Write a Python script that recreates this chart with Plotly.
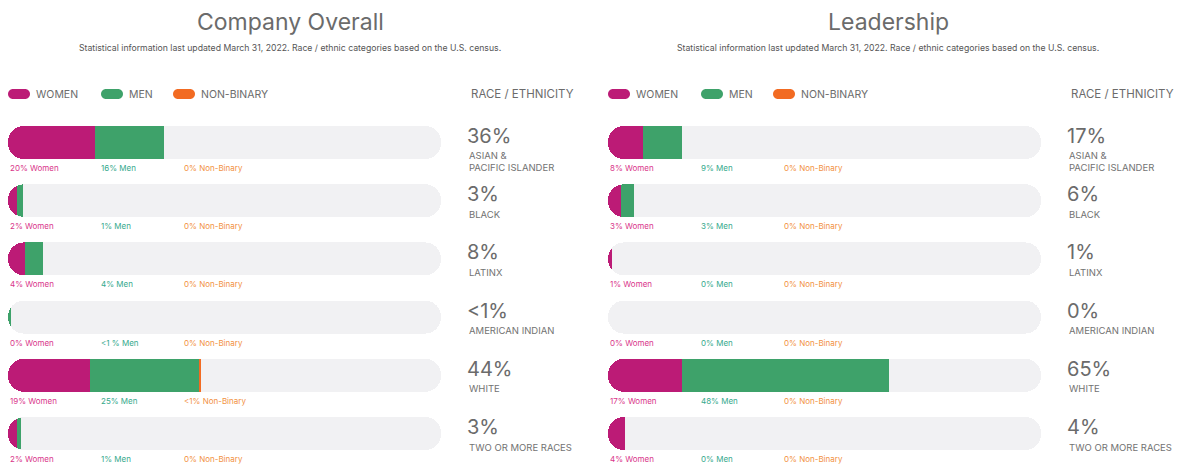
import plotly.graph_objects as go

# rows, top to bottom
races = ["api", "black", "latinx", "amind", "white", "multi"]
race_names = ["ASIAN &<br>PACIFIC ISLANDER", "BLACK", "LATINX", "AMERICAN INDIAN", "WHITE", "TWO OR MORE RACES"]

# Company Overall
co_women = [20, 2, 4, 0, 19, 2]
co_men = [16, 1.4, 4, 0.8, 25, 1]
co_nb = [0, 0, 0, 0, 0.4, 0]
co_total = ["36%", "3%", "8%", "<1%", "44%", "3%"]
co_women_lbl = ["20% Women", "2% Women", "4% Women", "0% Women", "19% Women", "2% Women"]
co_men_lbl = ["16% Men", "1% Men", "4% Men", "<1 % Men", "25% Men", "1% Men"]
co_nb_lbl = ["0% Non-Binary", "0% Non-Binary", "0% Non-Binary", "0% Non-Binary", "<1% Non-Binary", "0% Non-Binary"]

# Leadership
ld_women = [8, 3, 1, 0, 17, 4]
ld_men = [9, 3, 0, 0, 48, 0]
ld_nb = [0, 0, 0, 0, 0, 0]
ld_total = ["17%", "6%", "1%", "0%", "65%", "4%"]
ld_women_lbl = ["8% Women", "3% Women", "1% Women", "0% Women", "17% Women", "4% Women"]
ld_men_lbl = ["9% Men", "3% Men", "0% Men", "0% Men", "48% Men", "0% Men"]
ld_nb_lbl = ["0% Non-Binary"] * 6

W, H = 1180, 464
FONT = "Inter"
TRACK = "#f1f1f3"
C_WOMEN = "#bc1b76"
C_MEN = "#3ea26a"
C_NB = "#f26b22"
T_WOMEN = "#d9358a"
T_MEN = "#35a98c"
T_NB = "#f2913f"
GREY = "#6b6b6b"

fig = go.Figure()


def add_panel(xa, ya, women, men, nb):
    # grey pill track (has a base, so it sits outside the stack, rounded both ends)
    fig.add_trace(go.Bar(y=races, x=[100] * len(races), base=[0] * len(races), orientation="h",
                         xaxis=xa, yaxis=ya, hoverinfo="skip",
                         marker=dict(color=TRACK, line_width=0, cornerradius="50%")))
    # axis is reversed: the stack starts at the right end of the track and its
    # rounded tip lands on the left edge, as in the reference
    rest = [100 - w - m - n for w, m, n in zip(women, men, nb)]
    for vals, col in [(rest, "rgba(0,0,0,0)"), (nb, C_NB), (men, C_MEN), (women, C_WOMEN)]:
        fig.add_trace(go.Bar(y=races, x=[v if v > 0 else None for v in vals], orientation="h",
                             xaxis=xa, yaxis=ya,
                             marker=dict(color=col, line_width=0, cornerradius="50%")))


add_panel("x", "y", co_women, co_men, co_nb)
add_panel("x2", "y2", ld_women, ld_men, ld_nb)

ann = []


def panel_text(xa, ya, totals, wl, ml, nl):
    for i, r in enumerate(races):
        for xv, txt, col in [(100, wl[i], T_WOMEN), (79.0, ml[i], T_MEN), (59.9, nl[i], T_NB)]:
            ann.append(dict(xref=xa, yref=ya, x=xv, y=r, yshift=-25.5, text=txt, showarrow=False,
                            xanchor="left", yanchor="middle", font=dict(family=FONT, size=8, color=col)))
        ann.append(dict(xref=xa, yref=ya, x=0, y=r, xshift=24, yshift=6.5, text=totals[i], showarrow=False,
                        xanchor="left", yanchor="middle", font=dict(family=FONT, size=20, color=GREY)))
        ann.append(dict(xref=xa, yref=ya, x=0, y=r, xshift=26, yshift=-6, text=race_names[i], showarrow=False,
                        xanchor="left", yanchor="top", align="left",
                        font=dict(family=FONT, size=9.5, color="#727272")))


panel_text("x", "y", co_total, co_women_lbl, co_men_lbl, co_nb_lbl)
panel_text("x2", "y2", ld_total, ld_women_lbl, ld_men_lbl, ld_nb_lbl)

shapes = []
pill = "M5,-5 L17,-5 C19.76,-5 22,-2.76 22,0 C22,2.76 19.76,5 17,5 L5,5 C2.24,5 0,2.76 0,0 C0,-2.76 2.24,-5 5,-5 Z"
for off, title in [(0, "Company Overall"), (600, "Leadership")]:
    cx = (290 + off * 0.997) / W
    ann.append(dict(xref="paper", yref="paper", x=cx, y=1 - 22 / H, text=title, showarrow=False,
                    xanchor="center", yanchor="middle", font=dict(family=FONT, size=23, color=GREY)))
    ann.append(dict(xref="paper", yref="paper", x=cx, y=1 - 48 / H,
                    text="Statistical information last updated March 31, 2022. Race / ethnic categories based on the U.S. census.",
                    showarrow=False, xanchor="center", yanchor="middle",
                    font=dict(family=FONT, size=8.7, color="#555555")))
    for px, col, txt in [(8, C_WOMEN, "WOMEN"), (101, C_MEN, "MEN"), (173, C_NB, "NON-BINARY")]:
        shapes.append(dict(type="path", xref="paper", yref="paper", xsizemode="pixel", ysizemode="pixel",
                           xanchor=(px + off) / W, yanchor=1 - 94 / H, path=pill,
                           fillcolor=col, line=dict(width=0)))
        ann.append(dict(xref="paper", yref="paper", x=(px + off + 26) / W, y=1 - 94 / H, text=txt,
                        showarrow=False, xanchor="left", yanchor="middle",
                        font=dict(family=FONT, size=10.5, color=GREY)))
    ann.append(dict(xref="paper", yref="paper", x=(469 + off) / W, y=1 - 94 / H, text="RACE / ETHNICITY",
                    showarrow=False, xanchor="left", yanchor="middle",
                    font=dict(family=FONT, size=11.5, color=GREY)))

yrange = [5.524, -2.448]
fig.update_layout(
    width=W, height=H, autosize=False,
    margin=dict(l=0, r=0, t=0, b=0),
    paper_bgcolor="white", plot_bgcolor="white",
    barmode="stack", bargap=0.433, showlegend=False,
    xaxis=dict(domain=[8 / W, 441 / W], range=[100, 0], visible=False, fixedrange=True),
    xaxis2=dict(domain=[608 / W, 1041 / W], range=[100, 0], visible=False, fixedrange=True),
    yaxis=dict(domain=[0, 1], range=yrange, visible=False, categoryorder="array", categoryarray=races),
    yaxis2=dict(domain=[0, 1], range=yrange, visible=False, anchor="x2", categoryorder="array", categoryarray=races),
    annotations=ann, shapes=shapes,
)

fig.write_html("out.html", config={"displayModeBar": False},
               post_script="document.body.style.margin='0';document.body.style.overflow='hidden';")
